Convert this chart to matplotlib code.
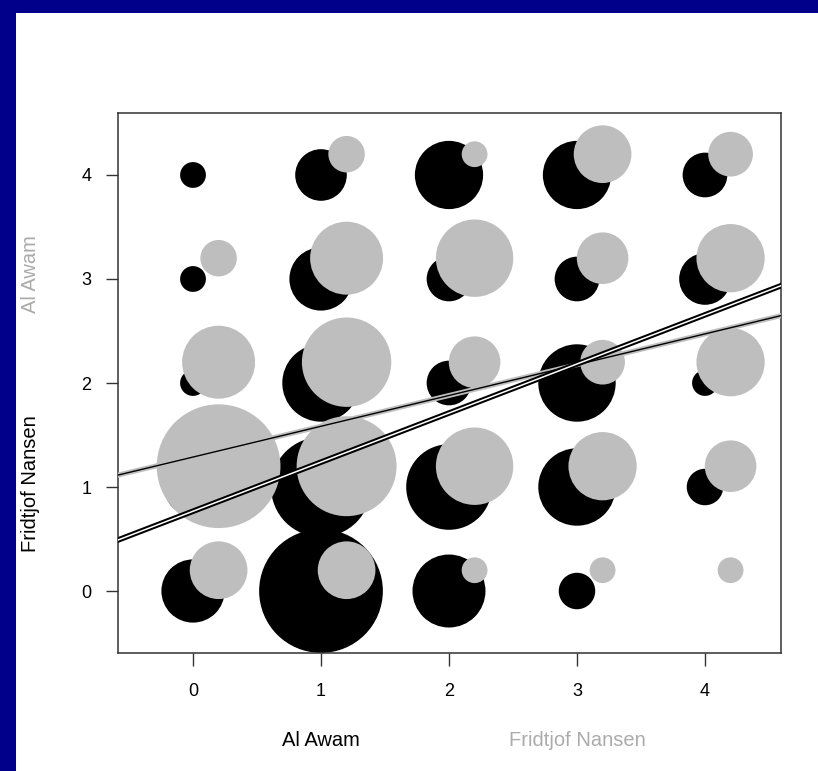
import numpy as np
import matplotlib
matplotlib.use("Agg")
import matplotlib.pyplot as plt
from matplotlib.patches import Rectangle
import matplotlib.transforms as mtransforms

plt.rcParams["font.family"] = ["Liberation Sans", "DejaVu Sans"]

# score levels on both axes
levels = [0, 1, 2, 3, 4]

# counts per cell, rows = y level 0..4, columns = x level 0..4
# black: x = Al Awam, y = Fridtjof Nansen
counts_black = [
    [6, 23, 8, 2, 0],
    [5, 15, 11, 9, 2],
    [1, 9, 3, 9, 1],
    [1, 6, 3, 3, 4],
    [1, 4, 7, 7, 3],
]
# grey: x = Fridtjof Nansen, y = Al Awam (shifted by +0.2)
counts_grey = [
    [5, 5, 1, 1, 1],
    [23, 15, 9, 7, 4],
    [8, 12, 4, 3, 7],
    [2, 8, 9, 4, 7],
    [0, 2, 1, 5, 3],
]
shift = 0.2

# fitted lines (intercept, slope)
fit_black = (0.767, 0.472)
fit_grey = (1.288, 0.296)

grey = "#BEBEBE"
label_grey = "#ABABAB"

fig = plt.figure(figsize=(8.18, 7.71), dpi=100)
fig.patch.set_facecolor("#00008B")
# white panel inside the blue frame, kept under the axes
fig.patches.append(Rectangle((16 / 818, 0), 1 - 16 / 818, 1 - 13 / 771,
                             transform=fig.transFigure, facecolor="white",
                             edgecolor="none", zorder=-1))

ax = fig.add_axes([118 / 818, (771 - 653) / 771, (781 - 118) / 818, (653 - 113) / 771])
ax.set_facecolor("white")

gx, gy = np.meshgrid(levels, levels)
cb = np.array(counts_black, dtype=float)
cg = np.array(counts_grey, dtype=float)
s_unit = (2 * 12.9 * 0.72) ** 2  # marker area for a count of one

ax.scatter(gx.ravel(), gy.ravel(), s=cb.ravel() * s_unit, c="black",
           linewidths=0, zorder=2)
ax.scatter(gx.ravel() + shift, gy.ravel() + shift, s=cg.ravel() * s_unit,
           c=grey, linewidths=0, zorder=3)

# grey fit: grey band with black core
ax.axline((0, fit_grey[0]), slope=fit_grey[1], color=grey, lw=3.6, zorder=4)
ax.axline((0, fit_grey[0]), slope=fit_grey[1], color="black", lw=1.0, zorder=4)
# black fit: black band with white core
ax.axline((0, fit_black[0]), slope=fit_black[1], color="black", lw=4.0, zorder=5)
ax.axline((0, fit_black[0]), slope=fit_black[1], color="white", lw=1.1, zorder=5)

ax.set_xlim(-0.586, 4.594)
ax.set_ylim(-0.596, 4.596)
ax.set_xticks(levels)
ax.set_yticks(levels)
ax.tick_params(axis="both", length=9, width=1, color="#333333", labelsize=13)
ax.tick_params(axis="x", pad=12.5)
ax.tick_params(axis="y", pad=10)
for sp in ax.spines.values():
    sp.set_linewidth(1.1)
    sp.set_color("#333333")

# axis titles in two colours
tx = mtransforms.blended_transform_factory(ax.transData, fig.transFigure)
ax.text(1, (771 - 740) / 771, "Al Awam", transform=tx, ha="center", va="center",
        fontsize=14.5, color="black")
ax.text(3, (771 - 740) / 771, "Fridtjof Nansen", transform=tx, ha="center",
        va="center", fontsize=14.5, color=label_grey)
ty = mtransforms.blended_transform_factory(fig.transFigure, ax.transData)
ax.text(30 / 818, 1.03, "Fridtjof Nansen", transform=ty, ha="center", va="center",
        rotation=90, fontsize=14.5, color="black")
ax.text(30 / 818, 3.05, "Al Awam", transform=ty, ha="center", va="center",
        rotation=90, fontsize=14.5, color=label_grey)

fig.savefig("out.png", dpi=100, facecolor=fig.get_facecolor())
